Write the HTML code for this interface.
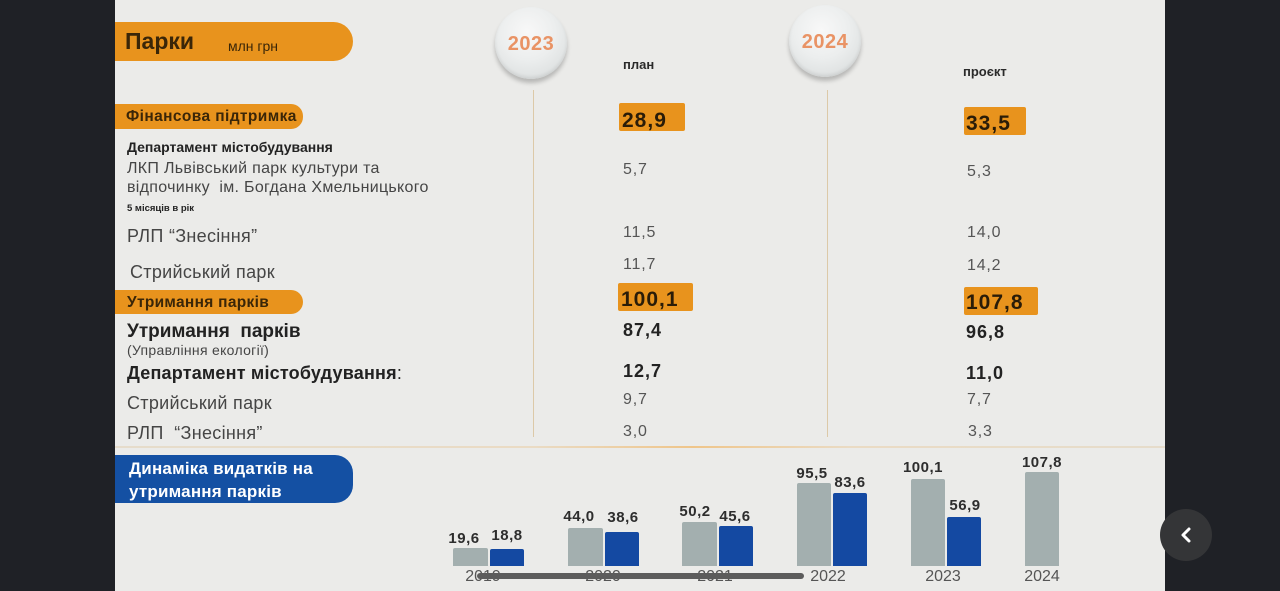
<!DOCTYPE html>
<html><head><meta charset="utf-8"><style>
*{margin:0;padding:0;box-sizing:border-box}
html,body{width:1280px;height:591px;overflow:hidden;background:#1f2126}
body{position:relative;font-family:"Liberation Sans",sans-serif}
#panel{position:absolute;left:115px;top:0;width:1050px;height:591px;background:#ebebe9}
.a{position:absolute;white-space:nowrap;line-height:1}
.pill{position:absolute;background:#e8931d;border-radius:0 14px 14px 0}
.box{position:absolute;background:#e8931d;border-radius:2px}
.circ{position:absolute;width:72px;height:72px;border-radius:50%;background:radial-gradient(circle at 45% 35%,#f8f8f8 0%,#eceeee 45%,#dfe2e2 75%,#c6cbcb 100%);box-shadow:0 4px 4px rgba(0,0,0,0.22),inset 0 -2px 3px rgba(0,0,0,0.08)}
.yr{position:absolute;width:72px;text-align:center;top:26px;font-size:20px;font-weight:bold;color:#e99365;letter-spacing:0.5px}
.vl{position:absolute;width:1px;background:#dcc9a8}
.bar{position:absolute;border-radius:2px 2px 0 0}
.g{background:#a3afaf}
.b{background:#1449a2}
.lbl{position:absolute;width:60px;margin-left:-30px;text-align:center;font-size:15px;font-weight:bold;color:#2d2d2d;line-height:1;letter-spacing:0.5px}
.yl{position:absolute;width:60px;margin-left:-30px;text-align:center;font-size:16px;color:#555;line-height:1}
.lt{color:#454545;letter-spacing:0.3px}
.bd{color:#222;font-weight:bold}
.n{font-size:16px;color:#555;letter-spacing:0.8px}
.nb{font-size:18px;font-weight:bold;color:#222;letter-spacing:1px}
.nh{font-size:21px;font-weight:bold;color:#2a1c08;letter-spacing:1px}
</style></head><body>
<div id="panel"></div>

<div class="pill" style="left:115px;top:22px;width:238px;height:39px;border-radius:0 20px 20px 0"></div>
<div class="a" style="left:125px;top:30px;font-size:23px;font-weight:bold;color:#3a2608">Парки</div>
<div class="a" style="left:228px;top:39px;font-size:14px;color:#3a2608">млн грн</div>

<div class="circ" style="left:495px;top:7px"><div class="yr" style="left:0">2023</div></div>
<div class="circ" style="left:789px;top:5px"><div class="yr" style="left:0">2024</div></div>
<div class="vl" style="left:533px;top:90px;height:347px"></div>
<div class="vl" style="left:827px;top:90px;height:347px"></div>

<div class="a" style="left:623px;top:58px;font-size:13px;font-weight:bold;color:#2a2a2a">план</div>
<div class="a" style="left:963px;top:65px;font-size:13px;font-weight:bold;color:#2a2a2a">проєкт</div>

<div class="pill" style="left:115px;top:104px;width:188px;height:25px;border-radius:0 12px 12px 0"></div>
<div class="a" style="left:126px;top:109px;font-size:15.5px;font-weight:bold;color:#3a2608;letter-spacing:0.4px">Фінансова підтримка</div>
<div class="pill" style="left:115px;top:290px;width:188px;height:24px;border-radius:0 12px 12px 0"></div>
<div class="a" style="left:127px;top:295px;font-size:15.5px;font-weight:bold;color:#3a2608;letter-spacing:0.3px">Утримання парків</div>

<div class="a bd" style="left:127px;top:140px;font-size:14px">Департамент містобудування</div>
<div class="a lt" style="left:127px;top:161px;font-size:16px">ЛКП Львівський парк культури та</div>
<div class="a lt" style="left:127px;top:180px;font-size:16px">відпочинку&nbsp; ім. Богдана Хмельницького</div>
<div class="a bd" style="left:127px;top:204px;font-size:9.5px">5 місяців в рік</div>
<div class="a lt" style="left:127px;top:227px;font-size:18px">РЛП “Знесіння”</div>
<div class="a lt" style="left:130px;top:263px;font-size:18px">Стрийський парк</div>
<div class="a bd" style="left:127px;top:322px;font-size:19px">Утримання&nbsp; парків</div>
<div class="a lt" style="left:127px;top:343px;font-size:14px">(Управління екології)</div>
<div class="a bd" style="left:127px;top:364px;font-size:18px;letter-spacing:0.2px">Департамент містобудування<span style="font-weight:normal">:</span></div>
<div class="a lt" style="left:127px;top:394px;font-size:18px">Стрийський парк</div>
<div class="a lt" style="left:127px;top:424px;font-size:18px">РЛП&nbsp; “Знесіння”</div>

<div class="box" style="left:619px;top:103px;width:66px;height:28px"></div>
<div class="box" style="left:964px;top:107px;width:62px;height:28px"></div>
<div class="box" style="left:618px;top:283px;width:75px;height:28px"></div>
<div class="box" style="left:964px;top:287px;width:74px;height:28px"></div>

<div class="a nh" style="left:622px;top:110px">28,9</div>
<div class="a n" style="left:623px;top:162px">5,7</div>
<div class="a n" style="left:623px;top:225px">11,5</div>
<div class="a n" style="left:623px;top:257px">11,7</div>
<div class="a nh" style="left:621px;top:289px">100,1</div>
<div class="a nb" style="left:623px;top:321px">87,4</div>
<div class="a nb" style="left:623px;top:362px">12,7</div>
<div class="a n" style="left:623px;top:392px">9,7</div>
<div class="a n" style="left:623px;top:424px">3,0</div>

<div class="a nh" style="left:966px;top:113px">33,5</div>
<div class="a n" style="left:967px;top:164px">5,3</div>
<div class="a n" style="left:967px;top:225px">14,0</div>
<div class="a n" style="left:967px;top:258px">14,2</div>
<div class="a nh" style="left:966px;top:292px">107,8</div>
<div class="a nb" style="left:966px;top:323px">96,8</div>
<div class="a nb" style="left:966px;top:364px">11,0</div>
<div class="a n" style="left:967px;top:392px">7,7</div>
<div class="a n" style="left:968px;top:424px">3,3</div>

<div style="position:absolute;left:115px;top:446px;width:1050px;height:2px;background:linear-gradient(90deg,#e6dccb 0%,#eadbc4 40%,#efc58a 55%,#eadbc4 70%,#e6dccb 100%)"></div>

<div style="position:absolute;left:115px;top:455px;width:238px;height:48px;background:#1450a3;border-radius:0 18px 18px 0"></div>
<div class="a" style="left:129px;top:460px;font-size:17px;font-weight:bold;color:#fff;letter-spacing:0.2px">Динаміка видатків на</div>
<div class="a" style="left:129px;top:483px;font-size:17px;font-weight:bold;color:#fff;letter-spacing:0.2px">утримання парків</div>

<div class="bar g" style="left:453px;top:548px;width:35px;height:18px"></div>
<div class="bar b" style="left:490px;top:549px;width:34px;height:17px"></div>
<div class="bar g" style="left:568px;top:528px;width:35px;height:38px"></div>
<div class="bar b" style="left:605px;top:532px;width:34px;height:34px"></div>
<div class="bar g" style="left:682px;top:522px;width:35px;height:44px"></div>
<div class="bar b" style="left:719px;top:526px;width:34px;height:40px"></div>
<div class="bar g" style="left:797px;top:483px;width:34px;height:83px"></div>
<div class="bar b" style="left:833px;top:493px;width:34px;height:73px"></div>
<div class="bar g" style="left:911px;top:479px;width:34px;height:87px"></div>
<div class="bar b" style="left:947px;top:517px;width:34px;height:49px"></div>
<div class="bar g" style="left:1025px;top:472px;width:34px;height:94px"></div>

<div class="lbl" style="left:464px;top:531px">19,6</div>
<div class="lbl" style="left:507px;top:528px">18,8</div>
<div class="lbl" style="left:579px;top:509px">44,0</div>
<div class="lbl" style="left:623px;top:510px">38,6</div>
<div class="lbl" style="left:695px;top:504px">50,2</div>
<div class="lbl" style="left:735px;top:509px">45,6</div>
<div class="lbl" style="left:812px;top:466px">95,5</div>
<div class="lbl" style="left:850px;top:475px">83,6</div>
<div class="lbl" style="left:923px;top:460px">100,1</div>
<div class="lbl" style="left:965px;top:498px">56,9</div>
<div class="lbl" style="left:1042px;top:455px">107,8</div>

<div class="yl" style="left:483px;top:569px">2019</div>
<div class="yl" style="left:603px;top:569px">2020</div>
<div class="yl" style="left:715px;top:569px">2021</div>
<div class="yl" style="left:828px;top:569px">2022</div>
<div class="yl" style="left:943px;top:569px">2023</div>
<div class="yl" style="left:1042px;top:569px">2024</div>

<div style="position:absolute;left:477px;top:573px;width:327px;height:6px;border-radius:3px;background:#5c5c5c"></div>

<div style="position:absolute;left:1160px;top:509px;width:52px;height:52px;border-radius:50%;background:#343537"></div>
<svg style="position:absolute;left:1176px;top:525px" width="20" height="20" viewBox="0 0 20 20"><polyline points="13,4 7,10 13,16" fill="none" stroke="#fff" stroke-width="3" stroke-linecap="round" stroke-linejoin="round"/></svg>
</body></html>
